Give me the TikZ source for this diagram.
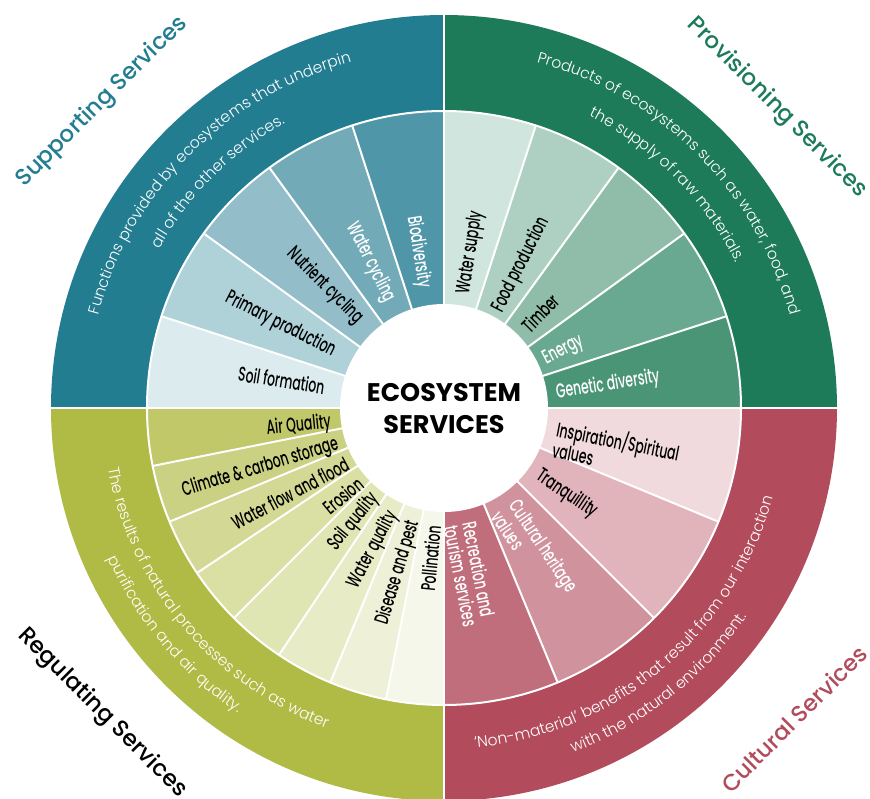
\documentclass[tikz,border=0pt]{standalone}
\usepackage{fontspec}
\setmainfont{Poppins}
\IfFontExistsTF{Poppins Medium}
  {\newfontfamily\titlefont{Poppins Medium}
   \newfontfamily\condfont{Poppins Medium}[FakeStretch=0.62]}
  {\newfontfamily\titlefont{Poppins}
   \newfontfamily\condfont{Poppins}[FakeStretch=0.63]}
\IfFontExistsTF{Poppins Light}
  {\newfontfamily\descfont{Poppins Light}}
  {\newfontfamily\descfont{Poppins}}
\usetikzlibrary{decorations.text}

% quadrant colours
\definecolor{supcol}{HTML}{237D91}
\definecolor{supA}{HTML}{DCEBEE}
\definecolor{supB}{HTML}{AFD1D8}
\definecolor{supC}{HTML}{93BEC9}
\definecolor{supD}{HTML}{72AAB8}
\definecolor{supE}{HTML}{4F96A8}
\definecolor{provcol}{HTML}{1E7B59}
\definecolor{provA}{HTML}{D0E5DD}
\definecolor{provB}{HTML}{AED0C3}
\definecolor{provC}{HTML}{8FBDAA}
\definecolor{provD}{HTML}{6AA991}
\definecolor{provE}{HTML}{4B9577}
\definecolor{regcol}{HTML}{B0BB45}
\definecolor{regA}{HTML}{C0C86A}
\definecolor{regB}{HTML}{CAD183}
\definecolor{regC}{HTML}{D3D995}
\definecolor{regD}{HTML}{DADFA4}
\definecolor{regE}{HTML}{E0E5B4}
\definecolor{regF}{HTML}{E7EBC6}
\definecolor{regG}{HTML}{EEF1D8}
\definecolor{regH}{HTML}{F5F7EA}
\definecolor{culcol}{HTML}{B24B5B}
\definecolor{culA}{HTML}{F0DADE}
\definecolor{culB}{HTML}{E1B4BC}
\definecolor{culC}{HTML}{D0929C}
\definecolor{culD}{HTML}{C06E7C}

\newcommand\descfmt{\descfont\color{white}\fontsize{15.5}{16}\selectfont}

\begin{document}
\begin{tikzpicture}[x=1pt, y=1pt,
    inlab/.style={font=\condfont\fontsize{20}{19}\selectfont, inner sep=0pt},
    qtitle/.style={font=\titlefont\fontsize{23}{23}\selectfont, inner sep=0pt},
    desc/.style={decorate, decoration={text along path, text align=center,
      text={|\descfmt|#1}}},
    sep/.style={white, line width=2}]
  \useasboundingbox (-444,-390) rectangle (426,408);

  % outer bands
  \fill[supcol] (0,0) -- (90:393pt) arc (90:180:393pt) -- cycle;
  \fill[provcol] (0,0) -- (0:393pt) arc (0:90:393pt) -- cycle;
  \fill[regcol] (0,0) -- (180:393pt) arc (180:270:393pt) -- cycle;
  \fill[culcol] (0,0) -- (270:393pt) arc (270:360:393pt) -- cycle;

  % supporting wedges
  \fill[supA] (0,0) -- (162:297pt) arc (162:180:297pt) -- cycle;
  \fill[supB] (0,0) -- (144:297pt) arc (144:162:297pt) -- cycle;
  \fill[supC] (0,0) -- (126:297pt) arc (126:144:297pt) -- cycle;
  \fill[supD] (0,0) -- (108:297pt) arc (108:126:297pt) -- cycle;
  \fill[supE] (0,0) -- (90:297pt) arc (90:108:297pt) -- cycle;
  % provisioning wedges
  \fill[provA] (0,0) -- (72:297pt) arc (72:90:297pt) -- cycle;
  \fill[provB] (0,0) -- (54:297pt) arc (54:72:297pt) -- cycle;
  \fill[provC] (0,0) -- (36:297pt) arc (36:54:297pt) -- cycle;
  \fill[provD] (0,0) -- (18:297pt) arc (18:36:297pt) -- cycle;
  \fill[provE] (0,0) -- (0:297pt) arc (0:18:297pt) -- cycle;
  % regulating wedges
  \fill[regA] (0,0) -- (180:297pt) arc (180:191.25:297pt) -- cycle;
  \fill[regB] (0,0) -- (191.25:297pt) arc (191.25:202.5:297pt) -- cycle;
  \fill[regC] (0,0) -- (202.5:297pt) arc (202.5:213.75:297pt) -- cycle;
  \fill[regD] (0,0) -- (213.75:297pt) arc (213.75:225:297pt) -- cycle;
  \fill[regE] (0,0) -- (225:297pt) arc (225:236.25:297pt) -- cycle;
  \fill[regF] (0,0) -- (236.25:297pt) arc (236.25:247.5:297pt) -- cycle;
  \fill[regG] (0,0) -- (247.5:297pt) arc (247.5:258.75:297pt) -- cycle;
  \fill[regH] (0,0) -- (258.75:297pt) arc (258.75:270:297pt) -- cycle;
  % cultural wedges
  \fill[culA] (0,0) -- (337.5:297pt) arc (337.5:360:297pt) -- cycle;
  \fill[culB] (0,0) -- (315:297pt) arc (315:337.5:297pt) -- cycle;
  \fill[culC] (0,0) -- (292.5:297pt) arc (292.5:315:297pt) -- cycle;
  \fill[culD] (0,0) -- (270:297pt) arc (270:292.5:297pt) -- cycle;

  % white gaps
  \draw[sep] (0,0) -- (108:297pt) (0,0) -- (126:297pt) (0,0) -- (144:297pt)
    (0,0) -- (162:297pt);
  \draw[sep] (0,0) -- (18:297pt) (0,0) -- (36:297pt) (0,0) -- (54:297pt)
    (0,0) -- (72:297pt);
  \draw[sep] (0,0) -- (191.25:297pt) (0,0) -- (202.5:297pt) (0,0) -- (213.75:297pt)
    (0,0) -- (225:297pt) (0,0) -- (236.25:297pt) (0,0) -- (247.5:297pt)
    (0,0) -- (258.75:297pt);
  \draw[sep] (0,0) -- (292.5:297pt) (0,0) -- (315:297pt) (0,0) -- (337.5:297pt);
  \draw[sep] (0,0) circle (297pt);
  \draw[sep, line width=2.5] (-400,0) -- (400,0) (0,-400) -- (0,400);
  \fill[white] (0,0) circle (104pt);

  % centre
  \node[font=\bfseries\fontsize{25.5}{32}\selectfont, align=center] (centre) at (0,-1)
    {ECOSYSTEM\\SERVICES};

  % quadrant titles
  \node[qtitle, text=supcol, rotate=45] (suptitle) at (-342,306) {Supporting Services};
  \node[qtitle, text=provcol, rotate=-45] (provtitle) at (333,300) {Provisioning Services};
  \node[qtitle, text=black, rotate=-45] (regtitle) at (-342,-305) {Regulating Services};
  \node[qtitle, text=culcol, rotate=45] (cultitle) at (350,-311) {Cultural Services};

  % descriptions round the outer band
  \path[desc={Functions provided by ecosystems that underpin}] (178:358pt) arc (178:92:358pt);
  \path[desc={all of the other services.}] (175:326pt) arc (175:95:326pt);
  \path[desc={Products of ecosystems such as water, food, and}] (88:358pt) arc (88:2:358pt);
  \path[desc={the supply of raw materials.}] (85:326pt) arc (85:5:326pt);
  \path[desc={The results of natural processes such as water}] (175:341pt) arc (175:265:341pt);
  \path[desc={purification and air quality.}] (175:368pt) arc (175:265:368pt);
  \path[desc={‘Non-material’ benefits that result from our interaction}] (262:341pt) arc (262:358:341pt);
  \path[desc={with the natural environment.}] (263:368pt) arc (263:353:368pt);

  % supporting labels
  \node[inlab, anchor=east, rotate=-9] (soil) at (170:121) {Soil formation};
  \node[inlab, anchor=east, rotate=-27] (primary) at (153:123) {Primary production};
  \node[inlab, anchor=east, rotate=-45] (nutrient) at (134:121) {Nutrient cycling};
  \node[inlab, anchor=east, rotate=-63, text=white] (watercyc) at (116.6:120) {Water cycling};
  \node[inlab, anchor=east, rotate=-81, text=white] (biodiv) at (99.5:122) {Biodiversity};
  % provisioning labels
  \node[inlab, anchor=west, rotate=81] (watersup) at (80:116) {Water supply};
  \node[inlab, anchor=west, rotate=63] (food) at (61:111) {Food production};
  \node[inlab, anchor=west, rotate=45] (timber) at (44.5:113) {Timber};
  \node[inlab, anchor=west, rotate=27, text=white] (energy) at (25.4:111) {Energy};
  \node[inlab, anchor=west, rotate=9, text=white] (genetic) at (7.4:113) {Genetic diversity};
  % regulating labels
  \node[inlab, anchor=east, rotate=5.6] (air) at (187.6:114) {Air Quality};
  \node[inlab, anchor=east, rotate=16.9] (climate) at (199:112) {Climate \& carbon storage};
  \node[inlab, anchor=east, rotate=28.1] (flood) at (209.6:111) {Water flow and flood};
  \node[inlab, anchor=east, rotate=39.4] (erosion) at (221.3:111) {Erosion};
  \node[inlab, anchor=east, rotate=50.6] (soilq) at (232:111) {Soil quality};
  \node[inlab, anchor=east, rotate=61.9] (waterq) at (244:116) {Water quality};
  \node[inlab, anchor=east, rotate=73.1] (pest) at (255:117) {Disease and pest};
  \node[inlab, anchor=east, rotate=84.4] (pollin) at (265:118) {Pollination};
  % cultural labels
  \node[inlab, anchor=west, rotate=-11.25, align=left] (inspire) at (-15:115) {Inspiration/Spiritual\\values};
  \node[inlab, anchor=west, rotate=-33.75] (tranq) at (-35.4:115) {Tranquillity};
  \node[inlab, anchor=west, rotate=-56.25, align=left, text=white] (heritage) at (-58:117) {Cultural heritage\\values};
  \node[inlab, anchor=west, rotate=-78.75, align=left, text=white] (recreation) at (-82:117) {Recreation and\\tourism services};
\end{tikzpicture}
\end{document}
